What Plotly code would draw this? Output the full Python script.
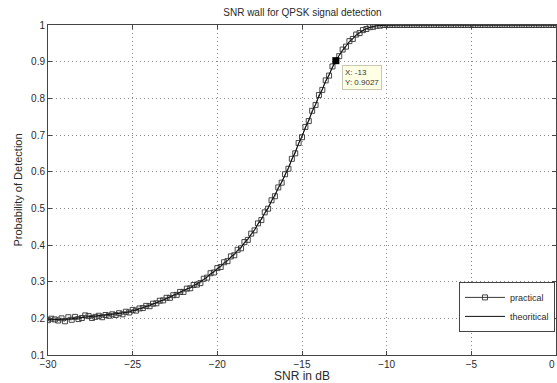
import plotly.graph_objects as go

snr_db = [
    -30.0, -29.8, -29.6, -29.4, -29.2, -29.0, -28.8, -28.6, -28.4, -28.2,
    -28.0, -27.8, -27.6, -27.4, -27.2, -27.0, -26.8, -26.6, -26.4, -26.2,
    -26.0, -25.8, -25.6, -25.4, -25.2, -25.0, -24.8, -24.6, -24.4, -24.2,
    -24.0, -23.8, -23.6, -23.4, -23.2, -23.0, -22.8, -22.6, -22.4, -22.2,
    -22.0, -21.8, -21.6, -21.4, -21.2, -21.0, -20.8, -20.6, -20.4, -20.2,
    -20.0, -19.8, -19.6, -19.4, -19.2, -19.0, -18.8, -18.6, -18.4, -18.2,
    -18.0, -17.8, -17.6, -17.4, -17.2, -17.0, -16.8, -16.6, -16.4, -16.2,
    -16.0, -15.8, -15.6, -15.4, -15.2, -15.0, -14.8, -14.6, -14.4, -14.2,
    -14.0, -13.8, -13.6, -13.4, -13.2, -13.0, -12.8, -12.6, -12.4, -12.2,
    -12.0, -11.8, -11.6, -11.4, -11.2, -11.0, -10.8, -10.6, -10.4, -10.2,
    -10.0, -9.8, -9.6, -9.4, -9.2, -9.0, -8.8, -8.6, -8.4, -8.2,
    -8.0, -7.8, -7.6, -7.4, -7.2, -7.0, -6.8, -6.6, -6.4, -6.2,
    -6.0, -5.8, -5.6, -5.4, -5.2, -5.0, -4.8, -4.6, -4.4, -4.2,
    -4.0, -3.8, -3.6, -3.4, -3.2, -3.0, -2.8, -2.6, -2.4, -2.2,
    -2.0, -1.8, -1.6, -1.4, -1.2, -1.0, -0.8, -0.6, -0.4, -0.2,
    0.0,
]

pd_practical = [
    0.195, 0.199, 0.197, 0.194, 0.200, 0.192, 0.203, 0.196, 0.204, 0.198,
    0.201, 0.208, 0.206, 0.201, 0.204, 0.207, 0.203, 0.209, 0.207, 0.211,
    0.209, 0.214, 0.211, 0.218, 0.216, 0.223, 0.221, 0.227, 0.228, 0.234,
    0.233, 0.240, 0.241, 0.248, 0.249, 0.256, 0.256, 0.263, 0.264, 0.272,
    0.272, 0.281, 0.282, 0.291, 0.292, 0.296, 0.308, 0.311, 0.323, 0.325,
    0.337, 0.340, 0.353, 0.356, 0.369, 0.372, 0.387, 0.391, 0.408, 0.414,
    0.431, 0.440, 0.459, 0.468, 0.489, 0.499, 0.522, 0.533, 0.557, 0.570,
    0.593, 0.608, 0.635, 0.650, 0.678, 0.694, 0.722, 0.738, 0.766, 0.782,
    0.809, 0.823, 0.849, 0.862, 0.887, 0.9027, 0.915, 0.933, 0.941, 0.956,
    0.962, 0.974, 0.978, 0.986, 0.989, 0.994, 0.995, 0.998, 0.998, 1.0,
    1.0, 1.0, 1.0, 1.0, 1.0, 1.0, 1.0, 1.0, 1.0, 1.0,
    1.0, 1.0, 1.0, 1.0, 1.0, 1.0, 1.0, 1.0, 1.0, 1.0,
    1.0, 1.0, 1.0, 1.0, 1.0, 1.0, 1.0, 1.0, 1.0, 1.0,
    1.0, 1.0, 1.0, 1.0, 1.0, 1.0, 1.0, 1.0, 1.0, 1.0,
    1.0, 1.0, 1.0, 1.0, 1.0, 1.0, 1.0, 1.0, 1.0, 1.0,
    1.0,
]

pd_theoretical = [
    0.196, 0.196, 0.196, 0.197, 0.197, 0.198, 0.198, 0.199, 0.200, 0.201,
    0.202, 0.202, 0.203, 0.204, 0.205, 0.206, 0.207, 0.208, 0.209, 0.210,
    0.211, 0.213, 0.214, 0.216, 0.218, 0.220, 0.223, 0.226, 0.229, 0.232,
    0.235, 0.239, 0.242, 0.246, 0.250, 0.254, 0.258, 0.262, 0.266, 0.270,
    0.274, 0.279, 0.284, 0.289, 0.294, 0.300, 0.306, 0.313, 0.320, 0.327,
    0.334, 0.342, 0.350, 0.358, 0.366, 0.374, 0.384, 0.394, 0.405, 0.416,
    0.428, 0.442, 0.456, 0.471, 0.486, 0.502, 0.519, 0.536, 0.554, 0.572,
    0.590, 0.611, 0.632, 0.653, 0.675, 0.697, 0.719, 0.741, 0.763, 0.785,
    0.806, 0.826, 0.846, 0.865, 0.884, 0.9027, 0.917, 0.931, 0.943, 0.954,
    0.964, 0.972, 0.979, 0.985, 0.990, 0.993, 0.996, 0.998, 0.999, 0.9995,
    1.0, 1.0, 1.0, 1.0, 1.0, 1.0, 1.0, 1.0, 1.0, 1.0,
    1.0, 1.0, 1.0, 1.0, 1.0, 1.0, 1.0, 1.0, 1.0, 1.0,
    1.0, 1.0, 1.0, 1.0, 1.0, 1.0, 1.0, 1.0, 1.0, 1.0,
    1.0, 1.0, 1.0, 1.0, 1.0, 1.0, 1.0, 1.0, 1.0, 1.0,
    1.0, 1.0, 1.0, 1.0, 1.0, 1.0, 1.0, 1.0, 1.0, 1.0,
    1.0,
]

x_ticks = [-30, -25, -20, -15, -10, -5, 0]
y_ticks = [0.1, 0.2, 0.3, 0.4, 0.5, 0.6, 0.7, 0.8, 0.9, 1.0]
y_ticktext = ["0.1", "0.2", "0.3", "0.4", "0.5", "0.6", "0.7", "0.8", "0.9", "1"]

tip_index = 85  # SNR = -13 dB data tip

FONT = "Liberation Sans, Arial, Helvetica, sans-serif"
TXT = "#2a2a2a"

fig = go.Figure()
fig.add_trace(go.Scatter(
    x=snr_db, y=pd_practical, mode="lines+markers", name="practical",
    line=dict(color="#222", width=0.9),
    marker=dict(symbol="square-open", size=5, color="#333", line=dict(width=0.9)),
))
fig.add_trace(go.Scatter(
    x=snr_db, y=pd_theoretical, mode="lines", name="theoritical",
    line=dict(color="#111", width=1),
))
fig.add_trace(go.Scatter(
    x=[snr_db[tip_index]], y=[pd_practical[tip_index]], mode="markers",
    showlegend=False,
    marker=dict(symbol="square", size=7, color="black"),
))

fig.add_annotation(
    x=snr_db[tip_index], y=pd_practical[tip_index],
    text="X: -13<br>Y: 0.9027", showarrow=False,
    xanchor="left", yanchor="top", align="left",
    xshift=6, yshift=-4,
    font=dict(family=FONT, size=8, color="#333"),
    bgcolor="#ffffe6", bordercolor="#c8c8b4", borderwidth=1, borderpad=2,
)

# right-most x tick label (sits at the page edge in the original)
fig.add_annotation(
    x=x_ticks[-1], y=0, xref="x", yref="paper", text=str(x_ticks[-1]),
    showarrow=False, xanchor="right", yanchor="top", yshift=-2, xshift=1,
    font=dict(family=FONT, size=10, color=TXT),
)

axis_common = dict(
    showline=True, linecolor="#444", linewidth=1, mirror="allticks",
    ticks="inside", ticklen=4, tickcolor="#444",
    showgrid=True, gridcolor="#8a8a8a", griddash="1px,3px", gridwidth=1,
    zeroline=False,
    tickfont=dict(family=FONT, size=10, color=TXT),
)

fig.update_xaxes(
    range=[-30, 0], tickvals=x_ticks, **axis_common,
    title=dict(text="SNR in dB", font=dict(family=FONT, size=12, color=TXT), standoff=2),
)
fig.update_yaxes(
    range=[0.1, 1], tickvals=y_ticks, ticktext=y_ticktext, **axis_common,
    title=dict(text="Probability of Detection", font=dict(family=FONT, size=11, color=TXT), standoff=6),
)

fig.update_layout(
    width=557, height=383,
    margin=dict(l=48, r=1, t=25, b=28),
    paper_bgcolor="white", plot_bgcolor="white",
    title=dict(text="SNR wall for QPSK signal detection", x=0.543, xanchor="center",
               y=0.967, yanchor="middle",
               font=dict(family=FONT, size=10, color=TXT)),
    legend=dict(x=0.998, y=0.07, xanchor="right", yanchor="bottom",
                bgcolor="white", bordercolor="#444", borderwidth=1,
                font=dict(family=FONT, size=9, color=TXT),
                tracegroupgap=0, itemwidth=40),
    showlegend=True,
)

fig.write_html("out.html")
